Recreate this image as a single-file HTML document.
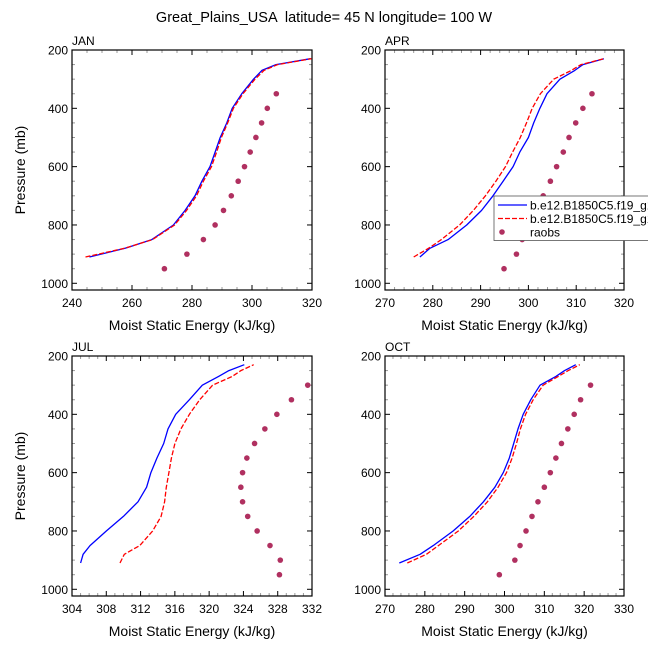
<!DOCTYPE html>
<html><head><meta charset="utf-8"><style>
html,body{margin:0;padding:0;background:#fff}
svg{display:block;font-family:"Liberation Sans",Arial,sans-serif}
</style></head><body>
<svg id="c" width="648" height="648" viewBox="0 0 648 648">
<text x="324" y="22" text-anchor="middle" font-size="14.5" style="white-space:pre">Great_Plains_USA  latitude= 45 N longitude= 100 W</text>
</svg>
<script>
const pLevels=[910,880,850,800,750,700,650,600,550,500,450,400,350,300,270,250,230];
const obsLevels=[950,900,850,800,750,700,650,600,550,500,450,400,350,300];
const janBlue=[245.8,257.7,266.6,273.8,277.7,281,283.3,286,287.7,289.4,291.6,293.4,296.6,300.5,303.3,308,319.5];
const janRed=[244.5,257.5,266.8,274.2,278.2,281.5,283.8,286.5,288.2,289.8,291.9,293.8,297,301,304,308.5,319.8];
const janObs=[270.8,278.3,283.8,287.7,290.5,293.1,295.4,297.5,299.4,301.3,303.2,305.1,308.1,null];
const aprBlue=[277.3,279.4,283.2,287.1,290.2,292.6,294.7,296.8,298.2,300,301.1,302.4,303.9,306.6,309.7,311.4,315.8];
const aprRed=[276,279.1,281.8,285.6,288.5,291,293.2,295.2,296.7,298.3,299.6,300.8,302.5,305.3,309,311,315.8];
const aprObs=[294.9,297.5,298.7,300.2,301.7,303.1,304.6,305.9,307.3,308.5,309.9,311.4,313.3,null];
const julBlue=[305,305.3,306.1,308,310,311.7,312.7,313.2,313.9,314.7,315.2,316.1,317.7,319.2,321.1,322.3,324.1];
const julRed=[309.6,310.1,311.9,313.4,314.4,314.8,315,315.3,315.6,316,316.7,317.7,318.9,320.4,322.7,323.7,325.2];
const julObs=[328.2,328.3,327.1,325.6,324.5,323.9,323.7,323.9,324.4,325.3,326.5,327.9,329.6,331.5];
const octBlue=[273.6,278.8,282.1,287.1,291.3,294.7,297.6,299.7,301.2,302.3,303.4,304.7,306.6,308.9,312.9,315.1,317.9];
const octRed=[275.6,280.4,283.4,288.4,292.3,295.7,298.4,300.5,301.9,303,304,305.3,307.2,309.7,313.5,316,318.9];
const octObs=[298.7,302.6,303.9,305.4,306.9,308.4,310,311.5,312.9,314.3,315.9,317.5,319.1,321.6];
const yTicks=[200,400,600,800,1000];

const svg=document.getElementById('c');
const NS='http://www.w3.org/2000/svg';
function mk(tag,at,parent){const e=document.createElementNS(NS,tag);for(const k in at)e.setAttribute(k,at[k]);(parent||svg).appendChild(e);return e;}

const panels=[
 {name:'jan',label:'JAN',x0:72,x1:312,y0:50,y1:290,xmin:240,xmax:320,major:20,minor:5,blue:janBlue,red:janRed,obs:janObs,ylab:true},
 {name:'apr',label:'APR',x0:385,x1:624,y0:50,y1:290,xmin:270,xmax:320,major:10,minor:2,blue:aprBlue,red:aprRed,obs:aprObs,ylab:false},
 {name:'jul',label:'JUL',x0:72,x1:312,y0:356,y1:596,xmin:304,xmax:332,major:4,minor:1,blue:julBlue,red:julRed,obs:julObs,ylab:true},
 {name:'oct',label:'OCT',x0:385,x1:624,y0:356,y1:596,xmin:270,xmax:330,major:10,minor:2,blue:octBlue,red:octRed,obs:octObs,ylab:false}
];
const PMIN=200,PMAX=1023;
panels.forEach(P=>{
 const g=mk('g',{});
 
 
 const xs=v=>P.x0+(v-P.xmin)/(P.xmax-P.xmin)*(P.x1-P.x0);
 const ys=p=>P.y0+(p-PMIN)/(PMAX-PMIN)*(P.y1-P.y0);
 const t=mk('text',{x:P.x0,y:P.y0-5,'font-size':12},g);t.textContent=P.label;
 
 
 for(let v=P.xmin;v<=P.xmax+1e-6;v+=P.minor){
  const X=xs(v);const r=((v-P.xmin)%P.major+P.major)%P.major;const maj=r<1e-6||Math.abs(r-P.major)<1e-6;
  const L=maj?5:3,col=maj?'#000':'#999';
  mk('line',{x1:X,x2:X,y1:P.y1,y2:P.y1-L,stroke:col,'stroke-width':1},g);
  mk('line',{x1:X,x2:X,y1:P.y0,y2:P.y0+L,stroke:col,'stroke-width':1},g);
  if(maj){const tl=mk('text',{x:X,y:P.y1+17,'text-anchor':'middle','font-size':12},g);tl.textContent=Math.round(v);
   
   }
 }
 for(let p=200;p<=1000;p+=50){
  const Y=ys(p);const maj=yTicks.includes(p);const L=maj?5:3,col=maj?'#000':'#999';
  mk('line',{x1:P.x0,x2:P.x0+L,y1:Y,y2:Y,stroke:col,'stroke-width':1},g);
  mk('line',{x1:P.x1,x2:P.x1-L,y1:Y,y2:Y,stroke:col,'stroke-width':1},g);
  if(maj){const tl=mk('text',{x:P.x0-4,y:Y+4.5,'text-anchor':'end','font-size':12},g);tl.textContent=p;
   
   }
 }
 mk('rect',{x:P.x0,y:P.y0,width:P.x1-P.x0,height:P.y1-P.y0,fill:'none',stroke:'#000','stroke-width':1.2},g);
 const xt=mk('text',{x:(P.x0+P.x1)/2,y:P.y1+40,'text-anchor':'middle','font-size':14},g);xt.textContent='Moist Static Energy (kJ/kg)';
 
 
 if(P.ylab){const cy=(P.y0+P.y1)/2;const yt=mk('text',{x:25,y:cy,'text-anchor':'middle','font-size':14,transform:`rotate(-90 25 ${cy})`},g);yt.textContent='Pressure (mb)';
  
  }
 const path=arr=>arr.map((v,i)=>(i?'L':'M')+xs(v).toFixed(1)+','+ys(pLevels[i]).toFixed(1)).join(' ');
 const bl=mk('path',{d:path(P.blue),fill:'none',stroke:'#0000ff','stroke-width':1.3,'stroke-linejoin':'round'},g);
 
 
 const rl=mk('path',{d:path(P.red),fill:'none',stroke:'#ff0000','stroke-width':1.3,'stroke-dasharray':'5,2'},g);
 
 
 P.obs.forEach((v,i)=>{if(v==null)return;
  const d=mk('circle',{cx:xs(v),cy:ys(obsLevels[i]),r:2.8,fill:'#b03060'},g);
  
  });
});
const lg=mk('g',{});


mk('rect',{x:494,y:196,width:160,height:44.5,fill:'#fff',stroke:'#555','stroke-width':0.8},lg);
const ents=[['b.e12.B1850C5.f19_g16','#0000ff',null],['b.e12.B1850C5.f19_g16','#ff0000','5,2'],['raobs',null,null]];
ents.forEach((e,i)=>{const Y=205+i*13.5;
 if(e[1]){const l=mk('line',{x1:498,x2:527,y1:Y,y2:Y,stroke:e[1],'stroke-width':1.3},lg);if(e[2])l.setAttribute('stroke-dasharray',e[2]);}
 else mk('circle',{cx:502,cy:Y,r:2.8,fill:'#b03060'},lg);
 const t=mk('text',{x:530,y:Y+4.5,'font-size':12},lg);t.textContent=e[0];
 
 
});
</script>
</body></html>
